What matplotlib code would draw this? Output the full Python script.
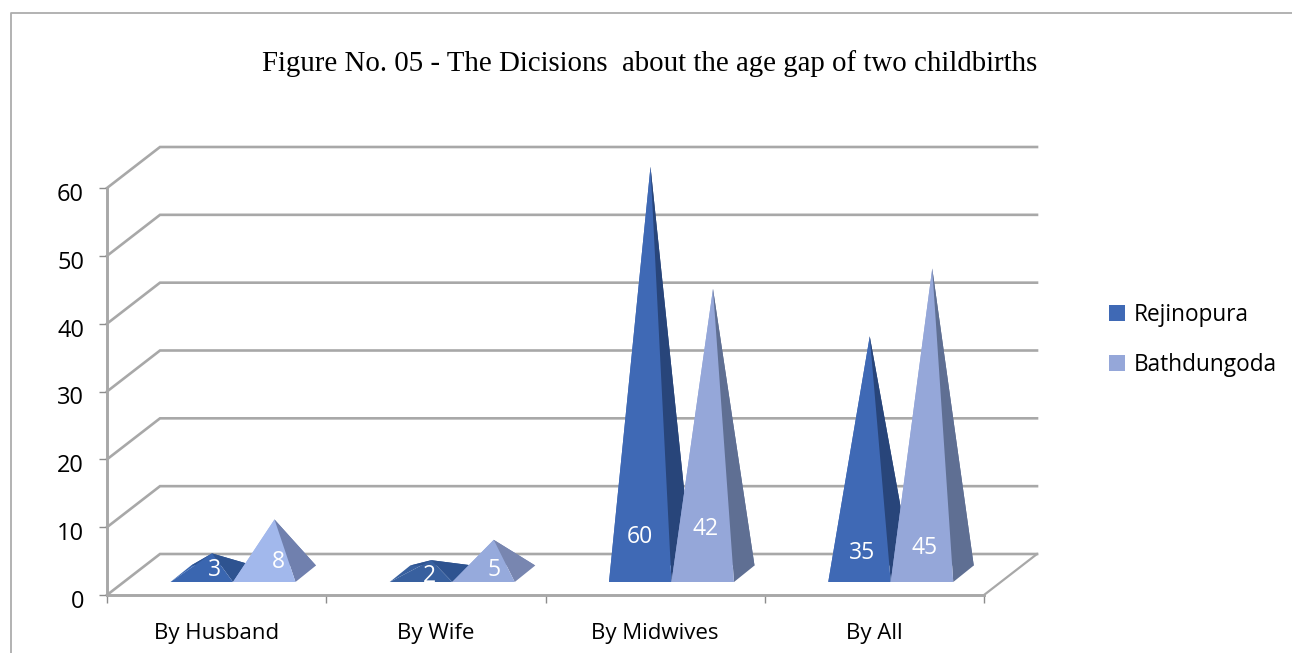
import matplotlib
matplotlib.use("Agg")
import matplotlib.pyplot as plt
from matplotlib.lines import Line2D
from matplotlib.patches import Patch, Polygon
from matplotlib.transforms import ScaledTranslation

# Data
categories = ["By Husband", "By Wife", "By Midwives", "By All"]
rejinopura = [3, 2, 60, 35]
bathdungoda = [8, 5, 42, 45]
y_ticks = [0, 10, 20, 30, 40, 50, 60]
title = "Figure No. 05 - The Dicisions  about the age gap of two childbirths"

W, H = 1292, 653
px_left, px_right, px_bottom, px_top = 107, 984, 595, 188
grey = "#a8a8a8"
sans = "Open Sans"

fig = plt.figure(figsize=(W / 100, H / 100), dpi=100)
ax = fig.add_axes(
    [px_left / W, 1 - px_bottom / H, (px_right - px_left) / W, (px_bottom - px_top) / H]
)
ax.set_xlim(0, len(categories))
ax.set_ylim(0, 60)
ax.patch.set_alpha(0)

# pixels to data units
ux = (px_right - px_left) / len(categories)
uy = (px_bottom - px_top) / 60

wall_dx, wall_dy = 53 / ux, 41 / uy
depth_dx, depth_dy = 20.5 / ux, 16.5 / uy
bar_w = 62.5 / ux
bar_start = 63.5 / ux
base_y = 13 / uy


# walls and gridlines
for v in y_ticks:
    ax.plot(
        [0, wall_dx, len(categories) + wall_dx],
        [v, v + wall_dy, v + wall_dy],
        color=grey,
        lw=1.9,
        clip_on=False,
        zorder=1,
        solid_joinstyle="miter",
    )
ax.plot(
    [len(categories), len(categories) + wall_dx],
    [0, wall_dy],
    color=grey,
    lw=1.6,
    clip_on=False,
    zorder=1,
)


def pyramid(x0, value, front, side):
    apex = (x0 + bar_w / 2 + depth_dx / 2, base_y + depth_dy / 2 + value)
    p1 = (x0, base_y)
    p2 = (x0 + bar_w, base_y)
    p3 = (x0 + bar_w + depth_dx, base_y + depth_dy)
    p4 = (x0 + depth_dx, base_y + depth_dy)
    ax.add_patch(Polygon([p1, p4, apex], fc=front, ec="none", clip_on=False, zorder=3))
    ax.add_patch(Polygon([p4, p3, apex], fc=side, ec="none", clip_on=False, zorder=3))
    ax.add_patch(Polygon([p2, p3, apex], fc=side, ec="none", clip_on=False, zorder=3))
    ax.add_patch(Polygon([p1, p2, apex], fc=front, ec="none", clip_on=False, zorder=3))


# short pyramids are shaded differently in the original
rej_front = ["#3a66b0", "#38609f", "#3f69b5", "#3f69b5"]
rej_side = ["#2e5390", "#2e5390", "#28457a", "#28457a"]
bath_front = ["#a2b8ec", "#96aadc", "#95a7d9", "#95a7d9"]
bath_side = ["#7080ae", "#7886b0", "#5f6f93", "#5f6f93"]

# label offsets in pixels from the base left corner of each pyramid
rej_offset = [(44, 12), (40, 6), (31, 45), (34, 29)]
bath_offset = [(45, 20), (42, 12), (34, 53), (34, 34)]

for i in range(len(categories)):
    x_r = i + bar_start
    x_b = x_r + bar_w
    pyramid(x_r, rejinopura[i], rej_front[i], rej_side[i])
    pyramid(x_b, bathdungoda[i], bath_front[i], bath_side[i])
    ax.annotate(
        str(rejinopura[i]),
        (x_r, base_y),
        xytext=rej_offset[i],
        textcoords="offset pixels",
        color="white",
        fontsize=16.5,
        family=sans,
        ha="center",
        va="center",
        zorder=5,
        annotation_clip=False,
    )
    ax.annotate(
        str(bathdungoda[i]),
        (x_b, base_y),
        xytext=bath_offset[i],
        textcoords="offset pixels",
        color="white",
        fontsize=16.5,
        family=sans,
        ha="center",
        va="center",
        zorder=5,
        annotation_clip=False,
    )

# axes
for s in ["top", "right"]:
    ax.spines[s].set_visible(False)
for s in ["left", "bottom"]:
    ax.spines[s].set_color(grey)
    ax.spines[s].set_linewidth(2.1)
    ax.spines[s].set_zorder(2)

ax.set_yticks(y_ticks)
ax.tick_params(axis="y", length=5.5, width=1, color="#8c8c8c", pad=11, labelsize=17)
ax.set_xticks(range(len(categories) + 1))
ax.set_xticklabels([])
ax.tick_params(axis="x", which="major", length=5.5, width=1, color="#8c8c8c")
ax.set_xticks([i + 0.5 for i in range(len(categories))], minor=True)
ax.set_xticklabels(categories, minor=True)
ax.tick_params(axis="x", which="minor", length=0, pad=20, labelsize=16)
for lab in ax.get_yticklabels() + ax.get_xticklabels(minor=True):
    lab.set_family(sans)
    lab.set_color("black")
# y labels sit a little below their ticks in the original
shift_down = ScaledTranslation(0, -4 / 100, fig.dpi_scale_trans)
for lab in ax.get_yticklabels():
    lab.set_transform(lab.get_transform() + shift_down)

# legend
handles = [
    Patch(fc="#3f69b5", ec="none", label="Rejinopura"),
    Patch(fc="#95a7d9", ec="none", label="Bathdungoda"),
]
fig.legend(
    handles=handles,
    loc="upper left",
    bbox_to_anchor=(1109 / W, 1 - 303 / H),
    frameon=False,
    borderpad=0,
    borderaxespad=0,
    handlelength=0.71,
    handleheight=0.71,
    handletextpad=0.4,
    labelspacing=1.15,
    prop={"family": sans, "size": 16.3},
)

# title and outer frame
fig.text(
    650 / W,
    1 - 64 / H,
    title,
    family="Liberation Serif",
    fontsize=20.8,
    ha="center",
    va="center",
    color="black",
)
fig.add_artist(
    Line2D(
        [11 / W, 11 / W, 1],
        [0, 1 - 13 / H, 1 - 13 / H],
        transform=fig.transFigure,
        color="#adadad",
        lw=1.3,
    )
)

fig.savefig("out.png", dpi=100)
